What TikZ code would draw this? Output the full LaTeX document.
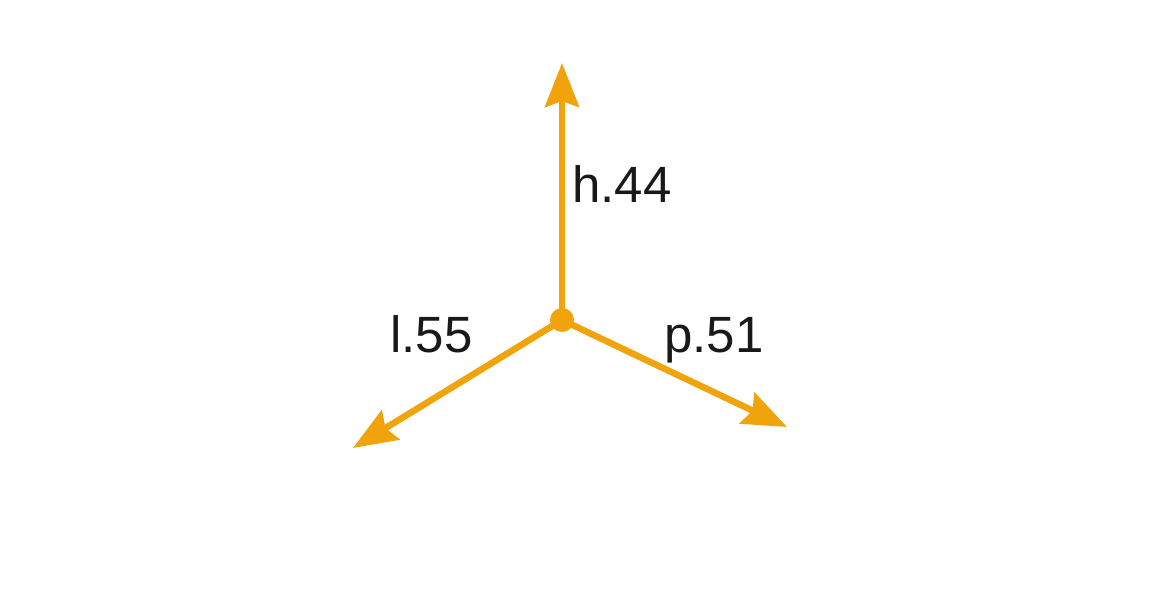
\documentclass[tikz,border=0pt]{standalone}
\usepackage{fontspec}
\setmainfont{Liberation Sans}
\usetikzlibrary{arrows.meta}
\definecolor{arrorange}{HTML}{F0A30A}
\begin{document}
\begin{tikzpicture}[x=1pt,y=-1pt,
  vec/.style={draw=arrorange,line width=6.5pt,-{Stealth[length=44pt,width=34pt,inset=6pt]}},
  lbl/.style={inner sep=0pt,anchor=base west,font=\fontsize{51}{60}\selectfont,text=black!90}]
\useasboundingbox (0,0) rectangle (1160,610);
\coordinate (o) at (562,320);
\coordinate (h) at (562,63);
\coordinate (l) at (353,448);
\coordinate (p) at (787,427);
\draw[vec] (o) -- (h);
\draw[vec] (o) -- (l);
\draw[vec] (o) -- (p);
\fill[arrorange] (o) circle (12pt);
\node[lbl] (th) at (572,202) {h.44};
\node[lbl] (tl) at (390,352) {l.55};
\node[lbl] (tp) at (664,352) {p.51};
\end{tikzpicture}
\end{document}
